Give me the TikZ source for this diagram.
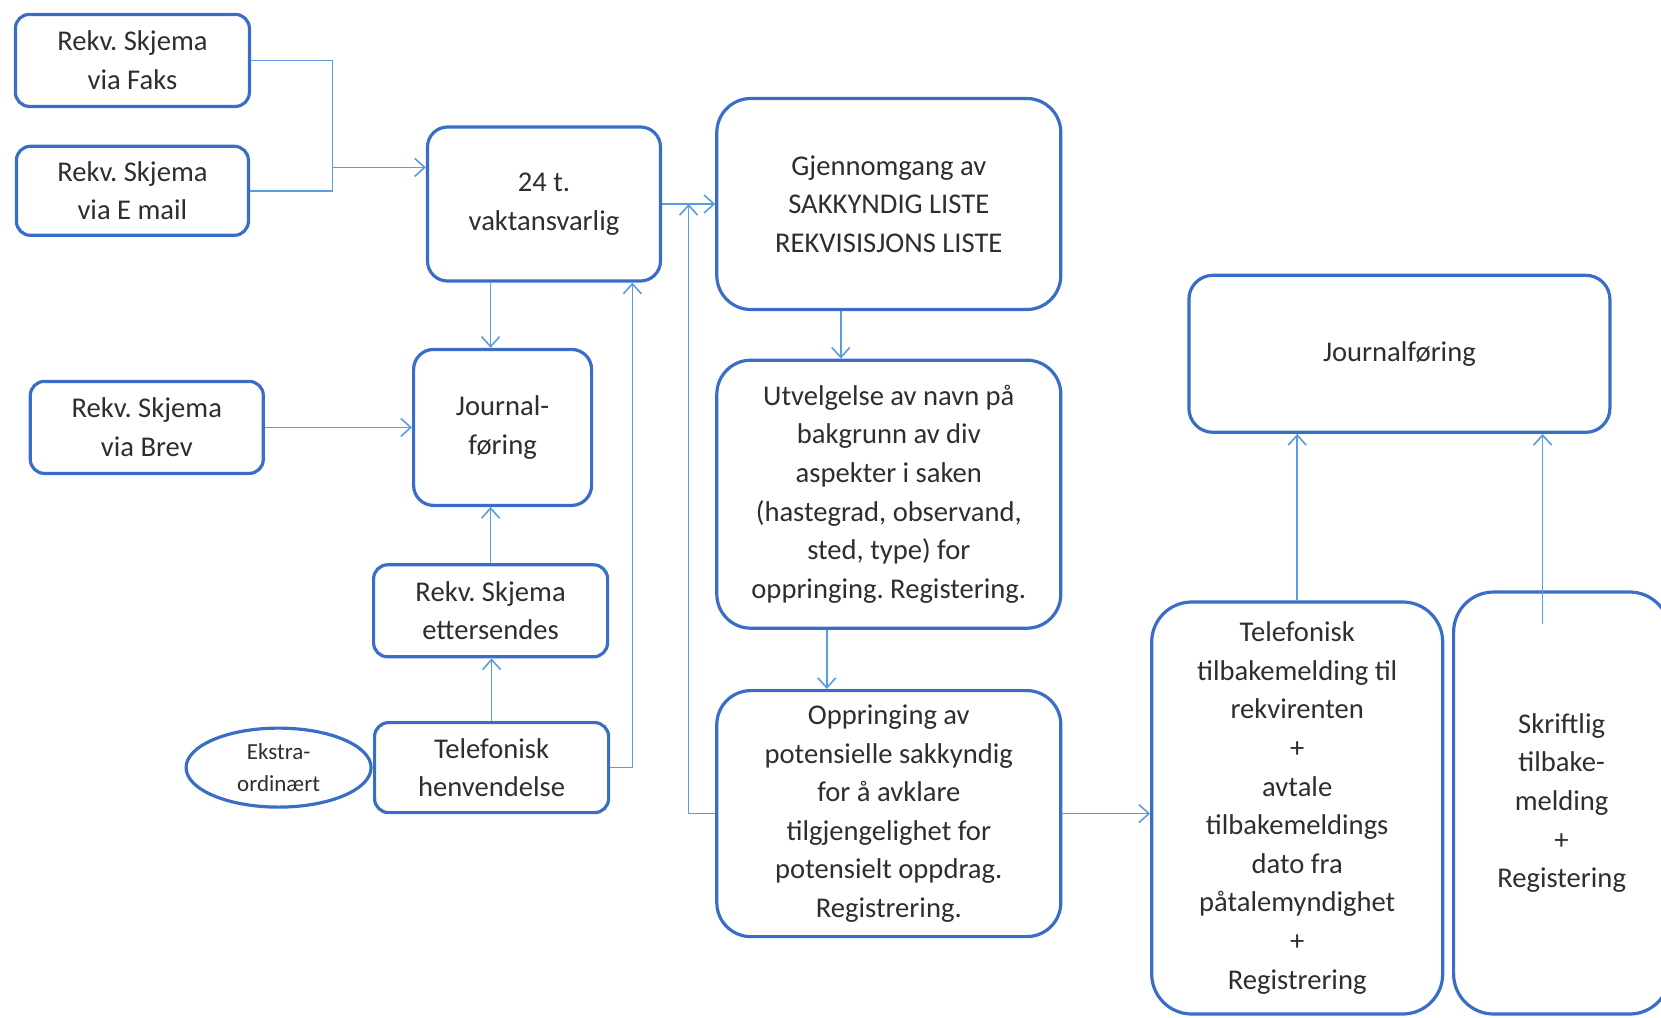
\documentclass[tikz,border=0pt]{standalone}
\usepackage{fontspec}
\setmainfont{Carlito}
\frenchspacing
\usetikzlibrary{shapes.geometric, arrows, arrows.meta}
\definecolor{boxblue}{HTML}{3A6EC6}
\definecolor{lineblue}{HTML}{5B9BE0}
\definecolor{textgray}{HTML}{2E2E2E}
\tikzstyle{card} = [rectangle, rounded corners=7pt, draw=boxblue, line width=1.6pt, text=textgray, align=center, inner sep=0pt, font=\fontsize{14.3}{19.3}\selectfont]
\tikzstyle{bigcard} = [card, rounded corners=17pt]
\tikzstyle{oval} = [ellipse, draw=boxblue, line width=1.6pt, text=textgray, align=center, inner sep=0pt, font=\fontsize{11.5}{16}\selectfont]
\tikzstyle{link} = [draw=lineblue, line width=0.8pt]
\tikzstyle{arrow} = [link, ->, >={Straight Barb[length=5pt,width=9pt]}]

\begin{document}
\begin{tikzpicture}[node distance=100pt]
\useasboundingbox (0,0) rectangle (830.5pt,-509pt);

% Incoming requests
\node (faks) [card, minimum width=117pt, minimum height=46pt] at (66.2pt,-30.2pt) {Rekv. Skjema\\via Faks};
\node (email) [card, minimum width=116pt, minimum height=44.5pt, below of=faks, yshift=34.8pt] {Rekv. Skjema\\via E mail};
\node (vakt) [card, rounded corners=10pt, minimum width=116.5pt, minimum height=77pt, right of=email, xshift=105.8pt, yshift=-6.6pt] {24 t.\\vaktansvarlig};
\node (journ) [card, rounded corners=10pt, minimum width=89pt, minimum height=78pt, below of=vakt, xshift=-20.7pt, yshift=-11.7pt] {Journal-\\føring};
\node (brev) [card, minimum width=116.5pt, minimum height=46pt, left of=journ, xshift=-77.9pt] {Rekv. Skjema\\via Brev};
\node (etter) [card, minimum width=117pt, minimum height=46pt, below of=journ, xshift=-6pt, yshift=8.3pt] {Rekv. Skjema\\ettersendes};
\node (telhen) [card, minimum width=117pt, minimum height=45pt, below of=etter, xshift=0.5pt, yshift=21.6pt] {Telefonisk\\henvendelse};
\node (ekstra) [oval, minimum width=92.5pt, minimum height=39.5pt, left of=telhen, xshift=-6.5pt] {Ekstra-\\ordinært};

% Middle column
\node (gjen) [bigcard, minimum width=172pt, minimum height=105.5pt, right of=vakt, xshift=72.4pt] {Gjennomgang av\\SAKKYNDIG LISTE\\REKVISISJONS LISTE};
\node (utv) [bigcard, minimum width=172pt, minimum height=134pt, below of=gjen, yshift=-45.1pt] {Utvelgelse av navn på\\bakgrunn av div\\aspekter i saken\\(hastegrad, observand,\\sted, type) for\\oppringing. Registering.};
\node (opp) [bigcard, minimum width=172pt, minimum height=123pt, below of=utv, yshift=-59.7pt] {Oppringing av\\potensielle sakkyndig\\for å avklare\\tilgjengelighet for\\potensielt oppdrag.\\Registrering.};

% Feedback column
\node (tilb) [bigcard, rounded corners=20pt, minimum width=145.5pt, minimum height=206pt, right of=opp, xshift=104.2pt, yshift=2.8pt] {Telefonisk\\tilbakemelding til\\rekvirenten\\+\\avtale\\tilbakemeldings\\dato fra\\påtalemyndighet\\+\\Registrering};
\node (skrift) [bigcard, rounded corners=20pt, minimum width=108pt, minimum height=211pt, right of=tilb, xshift=32.2pt, yshift=2.5pt] {Skriftlig\\tilbake-\\melding\\+\\Registering};
\node (journ2) [card, rounded corners=12pt, minimum width=210.5pt, minimum height=78.5pt, above of=tilb, xshift=51.1pt, yshift=127.1pt] {Journalføring};

% Helper points for the connectors
\coordinate (merge) at (166.3pt,-83.7pt);
\coordinate (back) at (316.2pt,-383.8pt);
\coordinate (loop) at (344.3pt,-406.8pt);
\coordinate (skrtop) at ([xshift=-9.5pt,yshift=-17pt]skrift.north);

% Drawing arrows
\draw [link] (faks.east) -| (merge |- email.east) -- (email.east);
\draw [arrow] (merge) -- (merge -| vakt.west);
\draw [arrow] (vakt) -- (gjen);
\draw [arrow] (opp.west) -| (loop |- gjen.west);
\draw [arrow] (telhen.east) -| (back |- vakt.south);
\draw [arrow] (etter |- vakt.south) -- (etter |- journ.north);
\draw [arrow] (brev) -- (journ);
\draw [arrow] (etter.north) -- (etter.north |- journ.south);
\draw [arrow] (telhen.north) -- (telhen.north |- etter.south);
\draw [arrow] ([xshift=-24pt]gjen.south) -- ([xshift=-24pt]utv.north);
\draw [arrow] ([xshift=-31pt]utv.south) -- ([xshift=-31pt]opp.north);
\draw [arrow] (opp.east) -- (opp.east -| tilb.west);
\draw [arrow] (tilb.north) -- (tilb.north |- journ2.south);
\draw [arrow] (skrtop) -- (skrtop |- journ2.south);

\end{tikzpicture}
\end{document}
